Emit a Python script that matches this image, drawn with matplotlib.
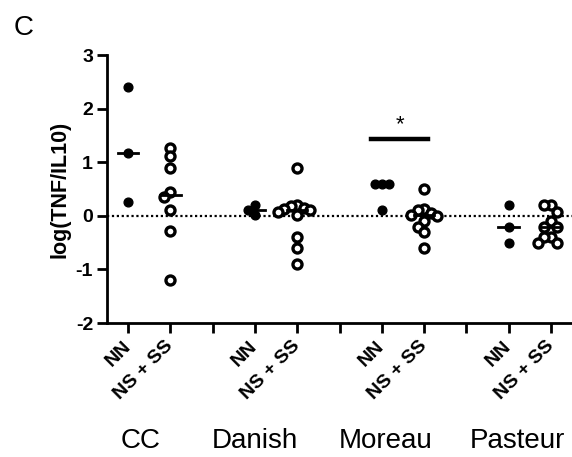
import matplotlib
matplotlib.use("Agg")
import matplotlib.pyplot as plt
import numpy as np

plt.rcParams['font.family'] = ['Liberation Sans', 'DejaVu Sans']
plt.rcParams['axes.unicode_minus'] = False

# values: log(TNF/IL10)
groups = ['CC', 'Danish', 'Moreau', 'Pasteur']
nn_vals = [
    [2.4, 1.17, 0.25],
    [0.2, 0.1, 0.02],
    [0.6, 0.6, 0.6, 0.1],
    [0.2, -0.2, -0.5],
]
ns_vals = [
    [1.27, 1.12, 0.9, 0.44, 0.35, 0.11, -0.29, -1.2],
    [0.9, 0.2, 0.18, 0.15, 0.12, 0.1, 0.08, 0.02, -0.4, -0.6, -0.9],
    [0.5, 0.12, 0.1, 0.05, 0.02, 0.0, -0.1, -0.2, -0.3, -0.6],
    [0.2, 0.2, 0.08, -0.1, -0.2, -0.2, -0.4, -0.4, -0.5, -0.5],
]
tick_labels = ['NN', 'NS + SS', '', 'NN', 'NS + SS', '', 'NN', 'NS + SS', '', 'NN', 'NS + SS']
group_label_x = [1.3, 4.0, 7.1, 10.2]
sig_bar = (6.75, 8.1, 1.44)   # x0, x1, y of the Moreau comparison

W, H = 572, 457
fig = plt.figure(figsize=(W / 100, H / 100), dpi=100)
ax = fig.add_axes([107 / W, 1 - 323 / H, (W - 107) / W, (323 - 55) / H])

xlim = (0.5, 11.5)
ylim = (-2, 3)
ax.set_xlim(*xlim)
ax.set_ylim(*ylim)

# pixel size of one data unit, used to spread overlapping points
xunit = (W - 107) / (xlim[1] - xlim[0])
yunit = (323 - 55) / (ylim[1] - ylim[0])


def swarm(vals, step):
    placed, offs = [], []
    for v in vals:
        y = v * yunit
        for k in [0, -1, 1, -2, 2, -3, 3]:
            x = k * step
            if all((x - px) ** 2 + (y - py) ** 2 >= step ** 2 for px, py in placed):
                break
        placed.append((x, y))
        offs.append(x / xunit)
    return np.array(offs)


ax.axhline(0, color='black', lw=1.6, ls=(0, (1, 1.2)), zorder=1)

for i in range(len(groups)):
    xn = 1 + 3 * i
    xs = 2 + 3 * i
    nv = np.array(nn_vals[i])
    sv = np.array(ns_vals[i])
    ax.plot(xn + swarm(nv, 7), nv, 'o', color='black', ms=6.3, zorder=3)
    ax.plot(xs + swarm(sv, 6.5), sv, 'o', mfc='white', mec='black', mew=2.4,
            ms=6.5, zorder=3)
    ax.plot([xn - 0.24, xn + 0.24], [np.median(nv)] * 2, color='black', lw=2, zorder=4)
    ax.plot([xs - 0.24, xs + 0.24], [np.median(sv)] * 2, color='black', lw=2, zorder=4)

ax.plot([sig_bar[0], sig_bar[1]], [sig_bar[2]] * 2, color='black', lw=3.2)
ax.text((sig_bar[0] + sig_bar[1]) / 2, sig_bar[2] + 0.07, '*', ha='center', va='bottom',
        fontsize=16)

for sp in ['top', 'right']:
    ax.spines[sp].set_visible(False)
for sp in ['left', 'bottom']:
    ax.spines[sp].set_linewidth(2)

ax.set_yticks(range(-2, 4))
ax.set_xticks(range(1, 12))
ax.set_xticklabels(tick_labels, rotation=45, ha='right', va='center',
                   rotation_mode='anchor', fontsize=14, fontweight='bold')
ax.tick_params(axis='both', direction='out', length=7, width=2, color='black')
ax.tick_params(axis='x', pad=8)
ax.tick_params(axis='y', pad=3)
for lab in ax.get_yticklabels():
    lab.set_fontsize(14)
    lab.set_fontweight('bold')
ax.set_ylabel('log(TNF/IL10)', fontsize=15.5, fontweight='bold', labelpad=4)

for name, gx in zip(groups, group_label_x):
    ax.text(gx, -0.44, name, transform=ax.get_xaxis_transform(), ha='center',
            va='center', fontsize=20)

fig.text(24 / W, 1 - 28 / H, 'C', ha='center', va='center', fontsize=20)

fig.savefig('out.png', dpi=100)
